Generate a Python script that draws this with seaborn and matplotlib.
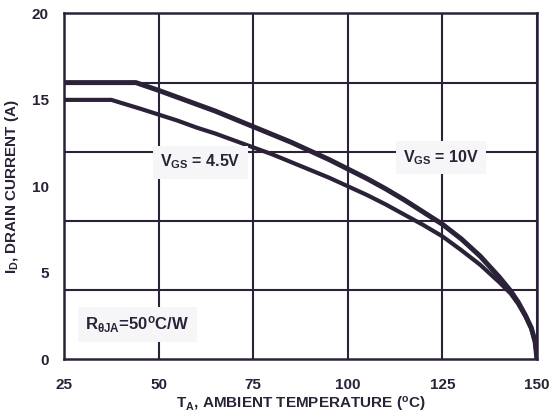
import matplotlib
matplotlib.use("Agg")
import matplotlib.pyplot as plt
import seaborn as sns
import pandas as pd
from matplotlib.ticker import FixedLocator

# ---- data ----
temp_10v = [25, 44, 50, 55, 60, 65, 70, 75, 80, 85, 90, 95, 100, 105, 110, 115, 120, 125, 130, 135, 140, 143, 145, 147, 148.5, 149.5, 150]
id_10v   = [16.0, 16.0, 15.55, 15.15, 14.75, 14.35, 13.9, 13.45, 13.0, 12.55, 12.05, 11.55, 11.0, 10.45, 9.85, 9.2, 8.5, 7.8, 6.95, 5.95, 4.75, 3.95, 3.3, 2.5, 1.8, 1.0, 0.0]
temp_45v = [25, 37.5, 45, 50, 55, 60, 65, 70, 75, 80, 85, 90, 95, 100, 105, 110, 115, 120, 125, 130, 135, 140, 143, 145, 147, 148.5, 149.5, 150]
id_45v   = [15.0, 15.0, 14.5, 14.15, 13.8, 13.4, 13.05, 12.65, 12.25, 11.85, 11.4, 10.95, 10.5, 10.0, 9.5, 8.95, 8.35, 7.75, 7.1, 6.3, 5.45, 4.45, 3.8, 3.2, 2.45, 1.75, 1.0, 0.0]
series_names = ["VGS = 10V", "VGS = 4.5V"]
x_ticks = [25, 50, 75, 100, 125, 150]
y_ticks = [0, 5, 10, 15, 20]
y_grid = [0, 4, 8, 12, 16, 20]

df = pd.concat([
    pd.DataFrame({"T": temp_10v, "I": id_10v, "s": series_names[0]}),
    pd.DataFrame({"T": temp_45v, "I": id_45v, "s": series_names[1]}),
])

sns.set_theme(style="white")
ink = "#2b2238"
plt.rcParams["font.family"] = ["Liberation Sans", "DejaVu Sans"]
plt.rcParams["font.weight"] = "bold"
plt.rcParams["mathtext.fontset"] = "custom"
plt.rcParams["mathtext.rm"] = "Liberation Sans:bold"
plt.rcParams["mathtext.bf"] = "Liberation Sans:bold"
plt.rcParams["mathtext.it"] = "Liberation Sans:bold"
plt.rcParams["mathtext.sf"] = "Liberation Sans:bold"

fig = plt.figure(figsize=(5.54, 4.19), dpi=100)
ax = fig.add_axes([64/554, 1-359/419, (537-64)/554, (359-13.5)/419])

sns.lineplot(data=df, x="T", y="I", hue="s", palette={series_names[0]: ink, series_names[1]: ink},
             ax=ax, legend=False, sort=False, estimator=None)
for ln, lw in zip(ax.lines, [3.6, 3.0]):
    ln.set_linewidth(lw)
    ln.set_solid_capstyle("butt")
    ln.set_solid_joinstyle("round")
    ln.set_zorder(3)

ax.set_xlim(25, 150)
ax.set_ylim(0, 20)
ax.set_xticks(x_ticks)
ax.set_yticks(y_ticks)
ax.yaxis.set_minor_locator(FixedLocator(y_grid))
ax.xaxis.grid(True, color=ink, lw=1.5)
ax.yaxis.grid(False, which="major")
ax.yaxis.grid(True, which="minor", color=ink, lw=1.5)
ax.set_axisbelow(True)
ax.tick_params(axis="both", which="both", length=0, labelsize=11, colors=ink)
ax.tick_params(axis="x", pad=14)
ax.tick_params(axis="y", pad=11)
for lab in ax.get_xticklabels() + ax.get_yticklabels():
    lab.set_fontweight("bold")
for sp in ax.spines.values():
    sp.set_color(ink)
    sp.set_linewidth(1.8)
    sp.set_visible(True)

ax.set_xlabel(r"T$_\mathrm{A}$, AMBIENT TEMPERATURE ($^\mathrm{o}$C)", fontsize=11,
              fontweight="bold", color=ink, labelpad=2)
ax.set_ylabel(r"I$_\mathrm{D}$, DRAIN CURRENT (A)", fontsize=11, fontweight="bold",
              color=ink, labelpad=8)

box = dict(boxstyle="square,pad=0.45", facecolor="#f6f5f8", edgecolor="none")
ax.text(61, 11.4, r"V$_\mathrm{GS}$ = 4.5V", fontsize=11.5, fontweight="bold", color=ink,
        ha="center", va="center", bbox=box, zorder=4)
ax.text(124.6, 11.65, r"V$_\mathrm{GS}$ = 10V", fontsize=11.5, fontweight="bold", color=ink,
        ha="center", va="center", bbox=box, zorder=4)
ax.text(44.3, 2.0, r"R$_{\theta\mathrm{JA}}$=50$^\mathrm{o}$C/W", fontsize=12, fontweight="bold",
        color=ink, ha="center", va="center", bbox=box, zorder=4)

fig.savefig("out.png", dpi=100)
